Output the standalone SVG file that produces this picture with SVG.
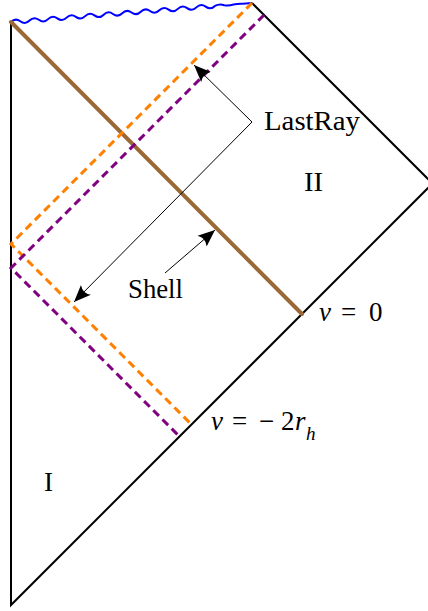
<svg xmlns="http://www.w3.org/2000/svg" width="428" height="611" viewBox="0 0 428 611">
<style>
.bd{fill:none;stroke:#000;stroke-width:2;stroke-linejoin:miter}
.shell{fill:none;stroke:#9b6936;stroke-width:4;stroke-linecap:round}
.or{fill:none;stroke:#ff8000;stroke-width:3;stroke-dasharray:8 5}
.pu{fill:none;stroke:#800080;stroke-width:3;stroke-dasharray:8 5}
.ar{fill:none;stroke:#000;stroke-width:1}
.sing{fill:none;stroke:#0000ff;stroke-width:2}
text,tspan{font-family:"Liberation Serif","DejaVu Serif",serif;font-size:27px;fill:#000}
.it{font-style:italic}
.sub{font-size:19px}
</style>
<defs>
<marker id="ah" viewBox="-17 -8 18 16" markerWidth="18" markerHeight="16" refX="0" refY="0" orient="auto" markerUnits="userSpaceOnUse">
<path d="M0,0 L-17,-7 Q-12,0 -17,7 Z" fill="#000"/>
</marker>
</defs>
<g id="boundary">
<path class="bd" d="M11,22 L11,605 L432,184"/>
<path class="bd" d="M252,3 L432,183"/>
</g>
<g id="singularity">
<path class="sing" d="M11,22 q4.32,-4.35 9.27,-0.73 t9.27,-0.73 t9.27,-0.73 t9.27,-0.73 t9.27,-0.73 t9.27,-0.73 t9.27,-0.73 t9.27,-0.73 t9.27,-0.73 t9.27,-0.73 t9.27,-0.73 t9.27,-0.73 t9.27,-0.73 t9.27,-0.73 t9.27,-0.73 t9.27,-0.73 t9.27,-0.73 t9.27,-0.73 t9.27,-0.73 t9.27,-0.73 t9.27,-0.73 t9.27,-0.73 q4.48,-2.36 9.27,-0.73 q4.73,0.83 9.27,-0.73 q4.59,-0.96 9.27,-0.73 l9.27,-0.73"/>
</g>
<g id="shell">
<path class="shell" d="M11,22 L302,314"/>
</g>
<g id="lastray-orange">
<path class="or" d="M252,3 L11,244 L191.5,424.5"/>
</g>
<g id="lastray-purple">
<path class="pu" d="M264,15 L11,268 L179.5,436.5"/>
</g>
<g id="connectors">
<path class="ar" d="M252,122 L194,65" marker-end="url(#ah)"/>
<path class="ar" d="M252,122 L74,302" marker-end="url(#ah)"/>
<path class="ar" d="M165,273 L215,230" marker-end="url(#ah)"/>
</g>
<g id="label-lastray"><text x="264" y="130" textLength="96" lengthAdjust="spacingAndGlyphs">LastRay</text></g>
<g id="label-shell"><text x="128" y="298" textLength="55" lengthAdjust="spacingAndGlyphs">Shell</text></g>
<g id="label-II"><text x="304" y="191" textLength="19" lengthAdjust="spacingAndGlyphs">II</text></g>
<g id="label-I"><text x="44" y="491">I</text></g>
<g id="label-v0"><text y="321"><tspan class="it" x="319">v</tspan><tspan x="341">=</tspan><tspan x="369">0</tspan></text></g>
<g id="label-v2rh"><text y="430"><tspan class="it" x="211">v</tspan><tspan x="232">=</tspan><tspan x="259">−</tspan><tspan x="281">2</tspan><tspan class="it" x="295">r</tspan><tspan class="it sub" x="306" y="440">h</tspan></text></g>
</svg>
